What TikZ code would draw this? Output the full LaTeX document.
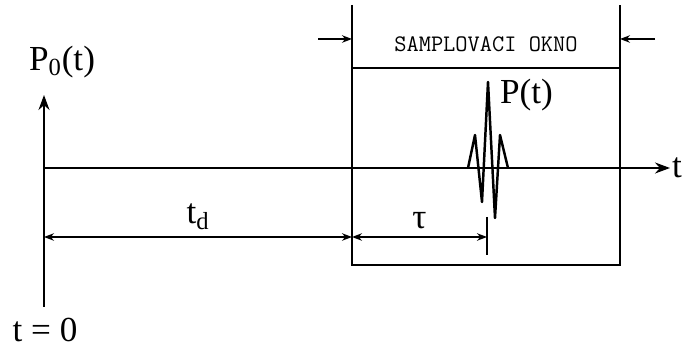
\documentclass[tikz,border=0pt]{standalone}
\usepackage{fontspec}
\setmainfont{Liberation Serif}
\usetikzlibrary{arrows.meta, positioning}
\tikzset{
  axisline/.style  = {-{Stealth[length=3mm, width=2.2mm]}, line width=1.1pt, black},
  winline/.style   = {line width=1.1pt},
  dimline/.style   = {{Stealth[length=2mm, width=1.5mm]}-{Stealth[length=2mm, width=1.5mm]}, line width=0.8pt},
  pointer/.style   = {-{Stealth[length=2mm, width=1.5mm]}, line width=0.8pt},
  lbl/.style       = {font=\fontsize{20}{24}\selectfont, inner sep=1pt},
  wlbl/.style      = {font=\ttfamily\fontsize{13.5}{16}\selectfont, inner sep=1pt},
  pulse/.style     = {line width=1.4pt, line join=round},
}

\begin{document}
\begin{tikzpicture}[x=1cm,y=1cm]
  \useasboundingbox (-0.88,-3.80) rectangle (12.86,3.36);
  % axes
  \coordinate (O) at (0,0);
  \coordinate (ybot) at (0,-2.78);
  \coordinate (ytop) at (0,1.46);
  \coordinate (xend) at (12.52,0);
  \draw[axisline] (ybot) -- (ytop);
  \draw[axisline] (O) -- (xend);
  \node[lbl, anchor=west] (tax) at (xend) {t};
  \node[lbl] (P0) at (0.36,2.12) {P\textsubscript{0}(t)};
  \node[lbl] (t0) at (0.02,-3.24) {t = 0};
  % sampling window
  \coordinate (wLtop) at (6.16,3.26);
  \coordinate (wLmid) at (6.16,2.0);
  \coordinate (wLbot) at (6.16,-1.94);
  \coordinate (wRtop) at (11.52,3.26);
  \coordinate (wRmid) at (11.52,2.0);
  \coordinate (wRbot) at (11.52,-1.94);
  \draw[winline] (wLtop) -- (wLbot) -- (wRbot) -- (wRtop);
  \draw[winline] (wLmid) -- (wRmid);
  \node[wlbl] (win) at (8.84,2.48) {SAMPLOVACI OKNO};
  \coordinate (aL) at (5.48,2.58);
  \coordinate (aR) at (12.22,2.58);
  \draw[pointer] (aL) -- (aL -| wLtop);
  \draw[pointer] (aR) -- (aR -| wRtop);
  % pulse
  \draw[pulse] (8.48,0) -- (8.62,0.66) -- (8.76,-0.68) -- (8.88,1.72)
    -- (9.02,-1.0) -- (9.12,0.66) -- (9.28,0);
  \node[lbl, anchor=west] (Pt) at (9.08,1.46) {P(t)};
  % delays
  \coordinate (dA) at (0,-1.38);
  \coordinate (dB) at (6.16,-1.38);
  \coordinate (dC) at (8.86,-1.38);
  \coordinate (tickT) at (8.86,-0.98);
  \coordinate (tickB) at (8.86,-1.74);
  \draw[dimline] (dA) -- node[lbl, above=3pt] (td) {t\textsubscript{d}} (dB);
  \draw[dimline] (dB) -- node[lbl, above=3pt] (tau) {τ} (dC);
  \draw[line width=0.8pt] (tickT) -- (tickB);
\end{tikzpicture}
\end{document}
